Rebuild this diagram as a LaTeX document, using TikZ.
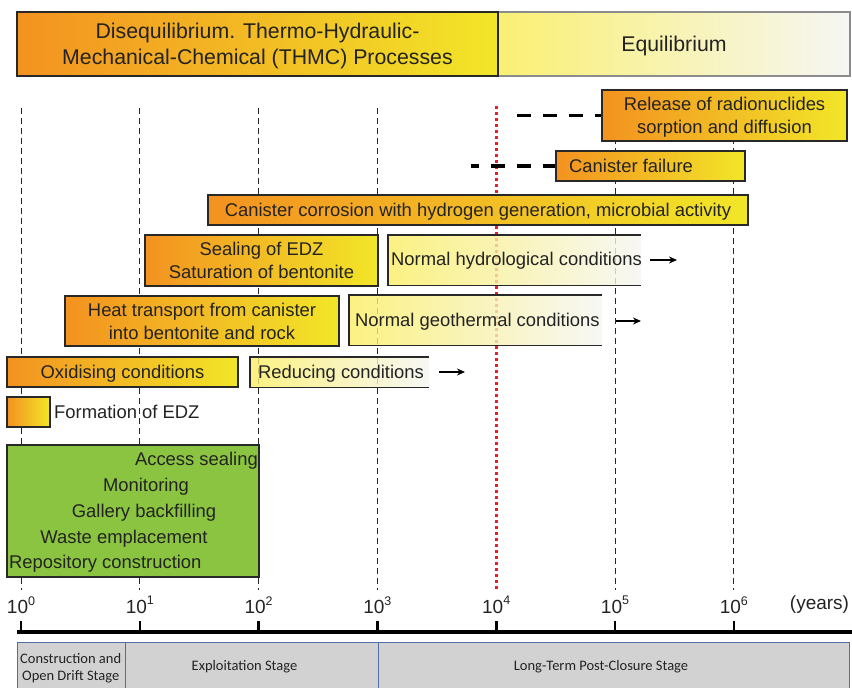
\documentclass[tikz,border=0pt]{standalone}
\usepackage{fontspec}
\setmainfont{Liberation Sans}
\newfontfamily\stagefont{Carlito}
\usetikzlibrary{arrows.meta}
\definecolor{orL}{RGB}{243,146,32}
\definecolor{yeR}{RGB}{242,230,40}
\definecolor{lyL}{RGB}{250,238,100}
\definecolor{lyR}{RGB}{246,246,242}
\definecolor{eqL}{RGB}{250,240,115}
\definecolor{eqR}{RGB}{246,246,244}
\definecolor{grn}{RGB}{138,196,64}
\definecolor{stg}{RGB}{210,210,210}
\definecolor{stgline}{RGB}{80,110,165}
\definecolor{txt}{RGB}{35,35,35}
\definecolor{boxline}{RGB}{40,40,40}
\definecolor{redline}{RGB}{235,30,40}
\begin{document}
\begin{tikzpicture}[x=1pt,y=-1pt,
  bodytext/.style={text=txt,font=\fontsize{18.4}{23}\selectfont,inner sep=0pt,text depth=0pt},
  obox/.style={draw=boxline,line width=1.4pt,left color=orL,right color=yeR,align=center,bodytext},
  lbox/.style={left color=lyL,right color=lyR,fill opacity=0.8,inner sep=0pt},
  lline/.style={draw=boxline,line width=1.4pt},
  gridline/.style={line width=1pt,dash pattern=on 6pt off 4pt,black!85},
  thickdash/.style={line width=3.5pt,dash pattern=on 14pt off 12pt},
  arr/.style={line width=1.3pt,-{Stealth[length=8pt,width=7pt]}},
  axislabel/.style={text=txt,font=\fontsize{19}{20}\selectfont,inner sep=0pt},
  stagebox/.style={draw=stgline,line width=1pt,fill=stg,minimum height=48pt,inner sep=0pt},
  stagetext/.style={text=txt,font=\stagefont\fontsize{14.5}{17}\selectfont,align=center,inner sep=0pt},
]
\useasboundingbox (0,0) rectangle (852,688);
\fill[white] (0,0) rectangle (852,688);

% grid lines
\foreach \k in {0,1,2,3,5,6} \draw[gridline] ({21+118.8*\k},108) -- ({21+118.8*\k},590);
\draw[redline,line width=3pt,dash pattern=on 3pt off 3pt] (496,106) -- (496,590);

% top bar
\node[draw=black!45,line width=1.2pt,left color=eqL,right color=eqR,minimum width=352pt,minimum height=64pt,text=txt,font=\fontsize{21.3}{26}\selectfont,text depth=0pt] (equil) at (674,44) {Equilibrium};
\node[obox,minimum width=481pt,minimum height=64pt,font=\fontsize{21.3}{26}\selectfont] (diseq) at (257.5,44) {Disequilibrium. Thermo-Hydraulic-\\Mechanical-Chemical (THMC) Processes};

% release & failure
\node[obox,minimum width=245pt,minimum height=51pt] (release) at (724.5,115.5) {Release of radionuclides\\sorption and diffusion};
\coordinate (relstart) at (517,115.5);
\draw[thickdash] (relstart) -- (release.west);
\node[obox,minimum width=189pt,minimum height=30pt] (canfail) at (650.5,166) {};
\node[bodytext,anchor=west] (canfailt) at (569,166) {Canister failure};
\coordinate (failstart) at (471,166);
\draw[thickdash,dash phase=6pt] (failstart) -- (canfail.west);

% corrosion
\node[obox,minimum width=540pt,minimum height=30pt] (corr) at (478,210) {Canister corrosion with hydrogen generation, microbial activity};

% sealing / hydrological
\node[obox,minimum width=233pt,minimum height=51pt] (seal) at (261.5,260.5) {Sealing of EDZ\\Saturation of bentonite};
\node[lbox,minimum width=253pt,minimum height=50pt] (hydro) at (514.5,260) {};
\draw[lline] (hydro.north east) -- (hydro.north west) -- (hydro.south west) -- (hydro.south east);
\node[bodytext,anchor=west] (hydrot) at (391,259) {Normal hydrological conditions};
\coordinate (ha1) at (650,260); \coordinate (ha2) at (677,260);
\draw[arr] (ha1) -- (ha2);

% heat / geothermal
\node[obox,minimum width=274pt,minimum height=50pt] (heat) at (202,321) {Heat transport from canister\\into bentonite and rock};
\node[lbox,minimum width=253pt,minimum height=50pt] (geo) at (475.5,320) {};
\draw[lline] (geo.north east) -- (geo.north west) -- (geo.south west) -- (geo.south east);
\node[bodytext,anchor=west] (geot) at (355,320) {Normal geothermal conditions};
\coordinate (ga1) at (616,321); \coordinate (ga2) at (641,321);
\draw[arr] (ga1) -- (ga2);

% oxidising / reducing
\node[obox,minimum width=231pt,minimum height=30pt] (oxid) at (122.5,372) {Oxidising conditions};
\node[lbox,minimum width=179pt,minimum height=30pt] (reduc) at (339.5,372) {};
\draw[lline] (reduc.north east) -- (reduc.north west) -- (reduc.south west) -- (reduc.south east);
\node[bodytext,anchor=west] (reduct) at (258,372) {Reducing conditions};
\coordinate (ra1) at (439,372); \coordinate (ra2) at (465,372);
\draw[arr] (ra1) -- (ra2);

% EDZ
\node[obox,minimum width=43pt,minimum height=30pt] (edz) at (28.5,412) {};
\node[bodytext,anchor=west] (edzt) at (54,412) {Formation of EDZ};

% green box
\node[draw=boxline,line width=1.2pt,fill=grn,minimum width=252pt,minimum height=132pt] (green) at (133,511) {};
\node[bodytext,anchor=east] (g1) at (258,459) {Access sealing};
\node[bodytext] (g2) at (146,485) {Monitoring};
\node[bodytext] (g3) at (144,511) {Gallery backfilling};
\node[bodytext] (g4) at (124,537) {Waste emplacement};
\node[bodytext,anchor=west] (g5) at (9,562) {Repository construction};

% axis
\coordinate (axL) at (17,632); \coordinate (axR) at (852,632);
\draw[line width=4pt] (axL) -- (axR);
\foreach \k in {0,...,6} {
  \draw[line width=2.6pt] ({21+118.8*\k},621) -- ({21+118.8*\k},632);
  \node[axislabel] (t\k) at ({21+118.8*\k},605) {10\raisebox{0.45em}{\fontsize{12.5}{13}\selectfont\k}};
}
\node[axislabel] (yrs) at (819.5,605) {(years)};

% stages
\node[stagebox,minimum width=108pt] (st1) at (71,666) {};
\node[stagebox,minimum width=253pt] (st2) at (251.5,666) {};
\node[stagebox,minimum width=471pt] (st3) at (613.5,666) {};
\node[stagetext] (st1t) at (70.7,668.5) {Construction and\\Open Drift Stage};
\node[stagetext] (st2t) at (244.5,667) {Exploitation Stage};
\node[stagetext] (st3t) at (601,667) {Long-Term Post-Closure Stage};
\end{tikzpicture}
\end{document}
